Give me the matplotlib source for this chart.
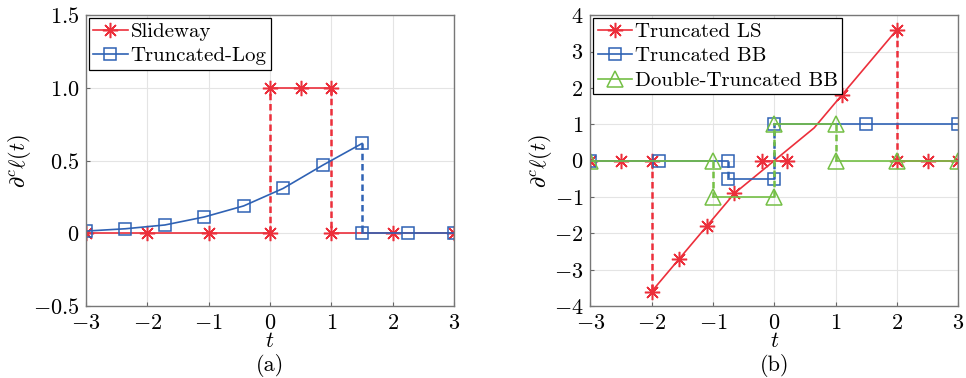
import matplotlib
matplotlib.use("Agg")
import matplotlib.pyplot as plt

plt.rcParams["font.family"] = ["cmr10", "DejaVu Serif"]
plt.rcParams["mathtext.fontset"] = "cm"
plt.rcParams["axes.unicode_minus"] = False
plt.rcParams["axes.formatter.use_mathtext"] = True

RED = "#ec2f3b"
BLUE = "#2f62b4"
GREEN = "#74bf45"

# (a) Slideway: three flat pieces joined by dashed jumps
slide_x = [[-3, -2, -1, 0], [0, 0.5, 1], [1, 2, 3]]
slide_y = [[0, 0, 0, 0], [1, 1, 1], [0, 0, 0]]
slide_jumps = [([0, 0], [0, 1]), ([1, 1], [1, 0])]

# (a) Truncated-Log: rising curve, then zero past the cut
tlog_x = [-3, -2.357, -1.714, -1.071, -0.429, 0.214, 0.857, 1.5]
tlog_y = [0.016, 0.032, 0.058, 0.113, 0.189, 0.309, 0.468, 0.618]
tlog_tail_x = [1.5, 2.25, 3]
tlog_tail_y = [0, 0, 0]
tlog_jump = ([1.5, 1.5], [0.618, 0])

# (b) Truncated LS
tls_x = [[-3, -2.5, -2], [-2, -1.55, -1.1, -0.65, 0.65, 1.1, 1.55, 2],
         [-0.2, 0.2], [2, 2.5, 3]]
tls_y = [[0, 0, 0], [-3.6, -2.7, -1.8, -0.9, 0.9, 1.8, 2.7, 3.6],
         [0, 0], [0, 0, 0]]
tls_marks = [None, [0, 1, 2, 3, 5, 7], None, None]
tls_jumps = [([-2, -2], [0, -3.6]), ([2, 2], [3.6, 0])]

# (b) Truncated BB
tbb_x = [[-3, -1.875, -0.75], [-0.75, 0], [0, 1.5, 3]]
tbb_y = [[0, 0, 0], [-0.5, -0.5], [1, 1, 1]]
tbb_jumps = [([-0.75, -0.75], [0, -0.5]), ([0, 0], [-0.5, 1])]

# (b) Double-Truncated BB
dbb_x = [[-3, -1], [-1, 0], [0, 1], [1, 2, 3]]
dbb_y = [[0, 0], [-1, -1], [1, 1], [0, 0, 0]]
dbb_jumps = [([-1, -1], [0, -1]), ([0, 0], [-1, 1]), ([1, 1], [1, 0])]

ASTERISK = (8, 2, 0)
line_kw = dict(lw=1.2, mfc="none", mew=1.1)
dash_kw = dict(lw=1.8, dashes=(2.6, 1.5))


def draw_series(ax, xs, ys, jumps, color, marker, ms, label, marks=None):
    for i, (x, y) in enumerate(zip(xs, ys)):
        me = marks[i] if marks else None
        ax.plot(x, y, color=color, marker=marker, ms=ms, markevery=me,
                label=label if i == 0 else None, **line_kw)
    for jx, jy in jumps:
        ax.plot(jx, jy, color=color, **dash_kw)


def style_axes(ax, yticks, ylabels, ylim, tag):
    ax.set_xlim(-3, 3)
    ax.set_ylim(*ylim)
    ax.set_xticks([-3, -2, -1, 0, 1, 2, 3])
    ax.set_xticklabels([f"${v}$" for v in [-3, -2, -1, 0, 1, 2, 3]])
    ax.set_yticks(yticks)
    ax.set_yticklabels(ylabels)
    ax.tick_params(direction="in", length=3, width=0.8, color="#666666",
                   labelsize=16, pad=5, top=False, right=False)
    ax.grid(True, color="#e4e4e4", lw=0.8)
    ax.set_axisbelow(True)
    for s in ax.spines.values():
        s.set_color("#777777")
        s.set_linewidth(1.0)
    ax.set_xlabel("$t$", fontsize=16, labelpad=-1)
    ax.set_ylabel(r"$\partial^c\ell(t)$", fontsize=16, labelpad=0)
    ax.text(0.5, -0.205, tag, transform=ax.transAxes, ha="center",
            va="center", fontsize=16)
    leg = ax.legend(loc="upper left", fontsize=15, fancybox=False,
                    edgecolor="black", framealpha=1, borderaxespad=0.15,
                    handlelength=1.65, handletextpad=0.15, borderpad=0.2,
                    labelspacing=0.28)
    leg.get_frame().set_linewidth(0.9)


fig = plt.figure(figsize=(9.66, 3.78), dpi=100)
ax1 = fig.add_axes([0.089, 0.190, 0.381, 0.770])
ax2 = fig.add_axes([0.611, 0.190, 0.381, 0.770])

draw_series(ax1, slide_x, slide_y, slide_jumps, RED, ASTERISK, 11, "Slideway")
ax1.plot(tlog_x, tlog_y, color=BLUE, marker="s", ms=9, label="Truncated-Log",
         **line_kw)
ax1.plot(tlog_tail_x, tlog_tail_y, color=BLUE, marker="s", ms=9, **line_kw)
ax1.plot(*tlog_jump, color=BLUE, **dash_kw)
style_axes(ax1, [-0.5, 0, 0.5, 1.0, 1.5],
           ["$-0.5$", "$0$", "$0.5$", "$1.0$", "$1.5$"], (-0.5, 1.5), "(a)")

draw_series(ax2, tls_x, tls_y, tls_jumps, RED, ASTERISK, 11, "Truncated LS",
            marks=tls_marks)
draw_series(ax2, tbb_x, tbb_y, tbb_jumps, BLUE, "s", 9, "Truncated BB")
draw_series(ax2, dbb_x, dbb_y, dbb_jumps, GREEN, "^", 11,
            "Double-Truncated BB")
style_axes(ax2, list(range(-4, 5)), [f"${v}$" for v in range(-4, 5)],
           (-4, 4), "(b)")

fig.savefig("out.png", dpi=100)
